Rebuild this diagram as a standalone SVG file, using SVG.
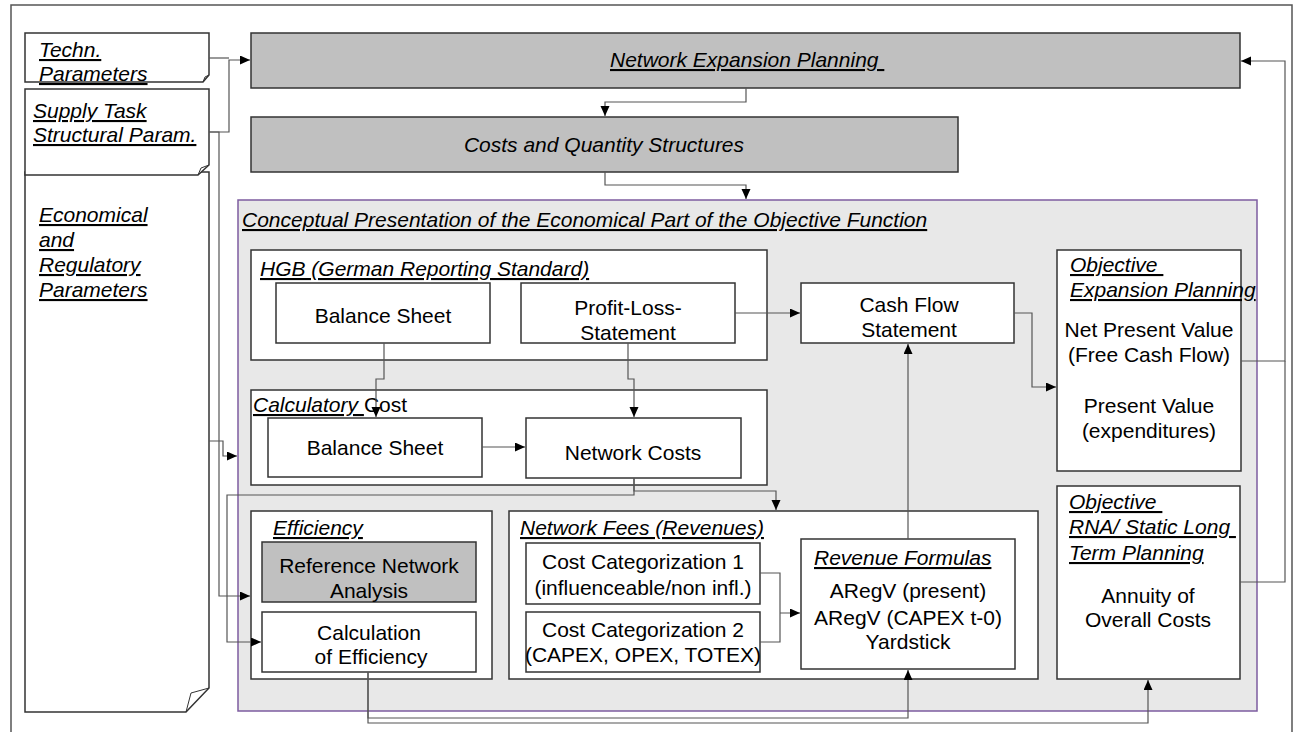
<svg xmlns="http://www.w3.org/2000/svg" width="1295" height="732" viewBox="0 0 1295 732">
<style>
text{font-family:"Liberation Sans",Arial,sans-serif;font-size:21px;fill:#000}
.i{font-style:italic}
.u{text-decoration:underline}
.c{text-anchor:middle}
.box{fill:#fff;stroke:#333;stroke-width:1.5}
.gray{fill:#c0c0c0;stroke:#333;stroke-width:1.5}
.paper{fill:#fff;stroke:#333;stroke-width:1.5}
.con{fill:none;stroke:#555;stroke-width:1.2}
.arr{marker-end:url(#ah)}
</style>
<defs>
<marker id="ah" markerUnits="userSpaceOnUse" markerWidth="11" markerHeight="10" refX="10" refY="4.5" orient="auto">
<path d="M0,0 L10,4.5 L0,9 z" fill="#000"/>
</marker>
</defs>
<rect width="1295" height="732" fill="#fff"/>
<path d="M11,732 V5 H1292 V732" fill="none" stroke="#555" stroke-width="1.5"/>

<g id="economical">
<path class="paper" d="M25,172 H209 V688 L186,712 H25 Z"/>
<path d="M209,688 L191,693 L186,712" fill="none" stroke="#333" stroke-width="1"/>
<text class="i u" x="39" y="222">Economical</text>
<text class="i u" x="39" y="247">and</text>
<text class="i u" x="39" y="272">Regulatory</text>
<text class="i u" x="39" y="297">Parameters</text>
</g>
<g id="supply">
<path class="paper" d="M25,89 H209 V165 L198,175 H25 Z"/>
<path d="M209,165 L201,168 L198,175" fill="none" stroke="#333" stroke-width="1"/>
<text class="i u" x="33" y="118">Supply Task</text>
<text class="i u" x="33" y="142">Structural Param.</text>
</g>
<g id="techn">
<path class="paper" d="M25,33 H209 V75 L203,82 H25 Z"/>
<path d="M209,75 L205,77 L203,82" fill="none" stroke="#333" stroke-width="1"/>
<text class="i u" x="39" y="57">Techn.</text>
<text class="i u" x="39" y="81">Parameters</text>
</g>

<g id="network-expansion">
<rect class="gray" x="251" y="33" width="989" height="55"/>
<text class="i u" x="610" y="67">Network Expansion Planning&#160;</text>
</g>
<g id="costs-quantity">
<rect class="gray" x="251" y="117" width="707" height="55"/>
<text class="i c" x="604" y="152">Costs and Quantity Structures</text>
</g>

<g id="conceptual">
<rect x="238" y="200" width="1019" height="511" fill="#e8e8e8" stroke="#7d5ca0" stroke-width="1.5"/>
<text class="i u" x="242" y="227">Conceptual Presentation of the Economical Part of the Objective Function</text>
</g>

<g id="hgb">
<rect class="box" x="251" y="250" width="516" height="110"/>
<text class="i u" x="260" y="276">HGB (German Reporting Standard)</text>
</g>
<g id="balance-sheet-hgb">
<rect class="box" x="276" y="283" width="214" height="60"/>
<text class="c" x="383" y="323">Balance Sheet</text>
</g>
<g id="profit-loss">
<rect class="box" x="521" y="283" width="214" height="60"/>
<text class="c" x="628" y="315">Profit-Loss-</text>
<text class="c" x="628" y="340">Statement</text>
</g>
<g id="cash-flow">
<rect class="box" x="801" y="283" width="213" height="60"/>
<text class="c" x="909" y="312">Cash Flow</text>
<text class="c" x="909" y="337">Statement</text>
</g>

<g id="calculatory">
<rect class="box" x="251" y="390" width="516" height="95"/>
<text x="253" y="412"><tspan class="i u">Calculatory </tspan>Cost</text>
</g>
<g id="balance-sheet-calc">
<rect class="box" x="268" y="418" width="214" height="59"/>
<text class="c" x="375" y="455">Balance Sheet</text>
</g>
<g id="network-costs">
<rect class="box" x="526" y="418" width="215" height="60"/>
<text class="c" x="633" y="460">Network Costs</text>
</g>

<g id="objective-expansion">
<rect class="box" x="1057" y="250" width="184" height="221"/>
<text class="i u" x="1070" y="272">Objective&#160;</text>
<text class="i u" x="1070" y="297">Expansion Planning</text>
<text class="c" x="1149" y="337">Net Present Value</text>
<text class="c" x="1149" y="362">(Free Cash Flow)</text>
<text class="c" x="1149" y="413">Present Value</text>
<text class="c" x="1149" y="438">(expenditures)</text>
</g>
<g id="objective-rna">
<rect class="box" x="1057" y="486" width="183" height="193"/>
<text class="i u" x="1069" y="509">Objective&#160;</text>
<text class="i u" x="1069" y="534">RNA/ Static Long&#160;</text>
<text class="i u" x="1069" y="560">Term Planning</text>
<text class="c" x="1148" y="603">Annuity of</text>
<text class="c" x="1148" y="627">Overall Costs</text>
</g>

<g id="efficiency">
<rect class="box" x="251" y="511" width="241" height="168"/>
<text class="i u" x="273" y="535">Efficiency</text>
</g>
<g id="reference-network">
<rect class="gray" x="262" y="542" width="214" height="60"/>
<text class="c" x="369" y="573">Reference Network</text>
<text class="c" x="369" y="598">Analysis</text>
</g>
<g id="calculation-efficiency">
<rect class="box" x="262" y="612" width="214" height="60"/>
<text class="c" x="369" y="640">Calculation</text>
<text class="c" x="371" y="664">of Efficiency</text>
</g>

<g id="network-fees">
<rect class="box" x="509" y="511" width="529" height="168"/>
<text class="i u" x="520" y="535">Network Fees (Revenues)</text>
</g>
<g id="cost-cat-1">
<rect class="box" x="526" y="543" width="234" height="61"/>
<text class="c" x="643" y="569">Cost Categorization 1</text>
<text class="c" x="643" y="595">(influenceable/non infl.)</text>
</g>
<g id="cost-cat-2">
<rect class="box" x="526" y="612" width="234" height="60"/>
<text class="c" x="643" y="637">Cost Categorization 2</text>
<text class="c" x="643" y="662">(CAPEX, OPEX, TOTEX)</text>
</g>
<g id="revenue-formulas">
<rect class="box" x="801" y="539" width="214" height="130"/>
<text class="i u" x="814" y="565">Revenue Formulas</text>
<text class="c" x="908" y="598">ARegV (present)</text>
<text class="c" x="908" y="625">ARegV (CAPEX t-0)</text>
<text class="c" x="908" y="649">Yardstick</text>
</g>

<g id="connectors">
<path class="con" d="M209,58 H229"/>
<path class="con arr" d="M209,132 H229 V60 H250"/>
<path class="con arr" d="M209,132 H219 V596 H250"/>
<path class="con arr" d="M209,441 H223 V456 H237"/>
<path class="con arr" d="M746,88 V102 H605 V116"/>
<path class="con arr" d="M605,172 V185 H746 V199"/>
<path class="con arr" d="M384,343 V379 H376 V417"/>
<path class="con arr" d="M628,343 V379 H634 V417"/>
<path class="con arr" d="M482,447 H525"/>
<path class="con arr" d="M735,313 H800"/>
<path class="con arr" d="M1014,313 H1032 V387 H1056"/>
<path class="con arr" d="M1241,361 H1285 V61 H1241"/>
<path class="con" d="M1240,582 H1285 V361"/>
<path class="con arr" d="M634,478 V491 H776 V510"/>
<path class="con arr" d="M634,478 V495 H227 V642 H261"/>
<path class="con arr" d="M760,573 H780 V642 H760 M780,613 H800"/>
<path class="con arr" d="M908,539 V344"/>
<path class="con arr" d="M368,672 V718 H908 V670"/>
<path class="con arr" d="M368,672 V723 H1148 V680"/>
</g>
</svg>
